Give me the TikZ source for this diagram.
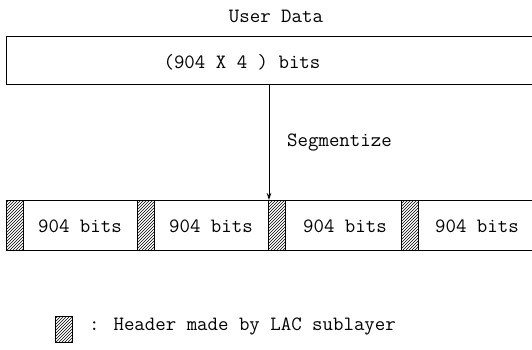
\documentclass[tikz,border=0pt]{standalone}
\usepackage{fontspec}
\usetikzlibrary{patterns,arrows.meta}
\begin{document}
\begin{tikzpicture}[x=1pt,y=-1pt,
  txt/.style={inner sep=0pt,font=\ttfamily\fontsize{20.3}{23}\selectfont},
  line/.style={line width=1pt},
  hdr/.style={draw,line width=1pt,pattern=north east lines,minimum width=17pt,minimum height=50pt,inner sep=0pt,anchor=north west},
  legendhdr/.style={draw,line width=1.2pt,pattern=north east lines,minimum width=17pt,minimum height=26pt,inner sep=0pt,anchor=north west}]
\useasboundingbox (0,0) rectangle (532,350);
% title
\node[txt] (title) at (276,16) {User Data};
% top box
\coordinate (tl) at (6,37);
\coordinate (bl) at (6,85);
\coordinate (tr) at (533,37);
\coordinate (br) at (533,85);
\draw[line] (tr) -- (tl) -- (bl) -- (br);
\node[txt] (whole) at (242,62) {(904 X 4 ) bits};
% arrow
\coordinate (arrS) at (269,85);
\coordinate (arrE) at (269,200);
\draw[line width=0.8pt,-{Stealth[length=7pt,width=4.5pt]}] (arrS) -- (arrE);
\node[txt,anchor=west] (seg) at (287,143) {Segmentize};
% bottom row
\coordinate (rtl) at (6,200);
\coordinate (rbl) at (6,250);
\coordinate (rtr) at (533,200);
\coordinate (rbr) at (533,250);
\draw[line] (rtr) -- (rtl) -- (rbl) -- (rbr);
\node[hdr] (h1) at (6,200) {};
\node[hdr] (h2) at (137,200) {};
\node[hdr] (h3) at (268,200) {};
\node[hdr] (h4) at (401,200) {};
\node[txt] (d1) at (80,226) {904 bits};
\node[txt] (d2) at (211,226) {904 bits};
\node[txt] (d3) at (345,226) {904 bits};
\node[txt] (d4) at (477,226) {904 bits};
% legend
\node[legendhdr] (lh) at (55,316) {};
\node[txt,anchor=west] (ltext) at (89,326) {: Header made by LAC sublayer};
\end{tikzpicture}
\end{document}
